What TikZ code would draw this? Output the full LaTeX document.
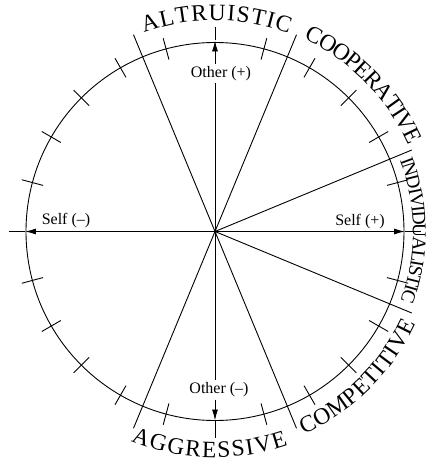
\documentclass[tikz,border=0pt]{standalone}
\usepackage{fontspec}
\setmainfont{Liberation Serif}
\usetikzlibrary{arrows.meta}
% #1 baseline radius, #2 centre angle, #3 tracking (pt), #4 direction (1 clockwise/top, -1 ccw/bottom), #5 font size, #6 letter/width(em) pairs
\newcommand\arcword[6]{%
  \gdef\arctotal{0}%
  \foreach \lch/\lwd in {#6}{\pgfmathsetmacro\arctmp{\arctotal+\lwd*#5+#3}\xdef\arctotal{\arctmp}}%
  \pgfmathsetmacro\arctmp{-0.5*(\arctotal-#3)}\xdef\arcpos{\arctmp}%
  \foreach \lch/\lwd in {#6}{%
    \pgfmathsetmacro\arcang{#2 - #4*(\arcpos + 0.5*\lwd*#5)/#1*180/pi}%
    \pgfmathsetmacro\arcrot{\arcang - #4*90}%
    \node[lettr, font=\fontsize{#5}{#5}\selectfont, rotate=\arcrot] at (\arcang:#1) {\lch};
    \pgfmathsetmacro\arctmp{\arcpos + \lwd*#5 + #3}\xdef\arcpos{\arctmp}%
  }%
}
\tikzset{
  lettr/.style={inner sep=0pt, anchor=base},
  axlbl/.style={font=\fontsize{16}{18}\selectfont, inner sep=2pt},
  arr/.style={-{Latex[length=11pt,width=6pt]}},
}
\begin{document}
\begin{tikzpicture}[x=1pt,y=1pt,line width=0.9pt]
\useasboundingbox (-215,-231.5) rectangle (216,231.5);
\coordinate (O) at (0,0);
% circle
\draw (O) circle (189);
% ticks
\foreach \a in {15,30,45,60,75,105,120,135,150,165,195,210,225,240,255,285,300,315,330,345}
  \draw (\a:178) -- (\a:200);
% sector lines
\foreach \a in {22.5,67.5,112.5,247.5,292.5,337.5}
  \draw (O) -- (\a:213);
% axis labels
\node[axlbl] (otp) at (6,158) {Other (+)};
\node[axlbl] (otm) at (4,-158.5) {Other (--)};
\node[axlbl] (sfm) at (-149,10.5) {Self (--)};
\node[axlbl] (sfp) at (145,9.5) {Self (+)};
% axis points
\coordinate (Tc) at (90:191);
\coordinate (T) at (90:204);
\coordinate (Bc) at (270:189);
\coordinate (B) at (270:206);
\coordinate (Rc) at (0:190);
\coordinate (R) at (0:206);
\coordinate (Lc) at (180:190);
\coordinate (L) at (180:206);
% vertical axis
\draw (O) -- (otp.south -| O);
\draw[arr] (otp.north -| O) -- (Tc);
\draw (Tc) -- (T);
\draw (O) -- (otm.north -| O);
\draw[arr] (otm.south -| O) -- (Bc);
\draw (Bc) -- (B);
% horizontal axis
\draw[arr] (O) -- (Rc);
\draw (Rc) -- (R);
\draw[arr] (O) -- (Lc);
\draw (Lc) -- (L);
% curved labels
\arcword{211}{89.6}{1.2}{1}{23.5}{A/.722,L/.611,T/.611,R/.667,U/.722,I/.333,S/.556,T/.611,I/.333,C/.667}
\arcword{212}{44.6}{-1}{1}{23.5}{C/.667,O/.722,O/.722,P/.556,E/.611,R/.667,A/.722,T/.611,I/.333,V/.722,E/.611}
\arcword{198}{0.3}{-1.5}{1}{19.5}{I/.333,N/.722,D/.722,I/.333,V/.722,I/.333,D/.722,U/.722,A/.722,L/.611,I/.333,S/.556,T/.611,I/.333,C/.667}
\arcword{221}{-45.5}{0.4}{-1}{23.5}{C/.667,O/.722,M/.889,P/.556,E/.611,T/.611,I/.333,T/.611,I/.333,V/.722,E/.611}
\arcword{226}{268.5}{1.6}{-1}{23.5}{A/.722,G/.722,G/.722,R/.667,E/.611,S/.556,S/.556,I/.333,V/.722,E/.611}
\end{tikzpicture}
\end{document}
